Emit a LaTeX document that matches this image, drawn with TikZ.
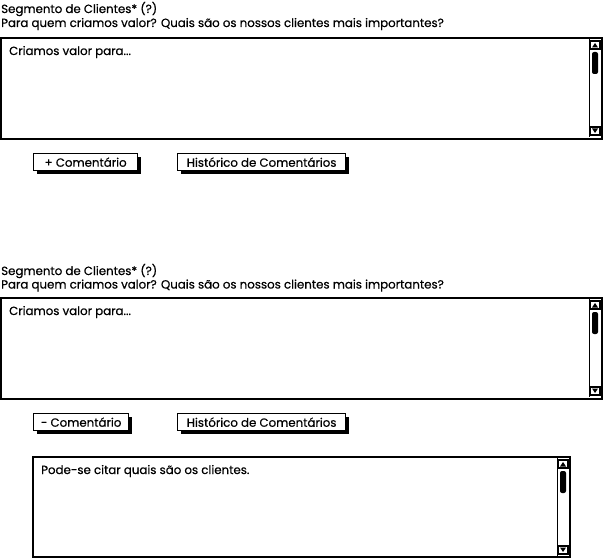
\documentclass[tikz,border=0pt]{standalone}
\usepackage{fontspec}
\newfontfamily\uifont{Poppins}[FakeBold=0.6]
\usetikzlibrary{shadows}
\tikzset{
  lbl/.style={anchor=base west, inner sep=0pt, font=\uifont\fontsize{11.8}{13}\selectfont},
  area/.style={draw=black, line width=1.8pt, fill=white},
  btn/.style={draw=black, line width=1.3pt, fill=white, inner sep=0pt, anchor=north west,
    font=\uifont\fontsize{11.8}{13}\selectfont,
    drop shadow={shadow xshift=3pt, shadow yshift=-3pt, fill=black, opacity=1}},
  scrollbar/.pic={
    \draw[line width=1pt] (-13,1) -- (-13,99);
    \draw[line width=1.2pt, fill=white] (-12,3) rectangle (-2,11);
    \fill (-10,9.5) -- (-4,9.5) -- (-7,5) -- cycle;
    \fill[rounded corners=2pt] (-10,14) rectangle (-4,36);
    \draw[line width=1.2pt, fill=white] (-12,89) rectangle (-2,97);
    \fill (-10,90.5) -- (-4,90.5) -- (-7,95) -- cycle;
  }
}
\begin{document}
\begin{tikzpicture}[x=1pt, y=-1pt]
\useasboundingbox (0,0) rectangle (605,559);

% ---- block 1 ----
\node[lbl] (t1) at (1,13) {Segmento de Clientes* (?)};
\node[lbl] (q1) at (1,27) {Para quem criamos valor? Quais são os nossos clientes mais importantes?};
\draw[area] (1,38) rectangle (602,139);
\pic at (602,38) {scrollbar};
\node[lbl] (a1) at (9,55) {Criamos valor para...};
\node[btn, minimum width=104pt, minimum height=17pt] (b1) at (33,153) {+ Comentário};
\node[btn, minimum width=168pt, minimum height=17pt] (h1) at (177,153) {Histórico de Comentários};

% ---- block 2 ----
\node[lbl] (t2) at (1,275) {Segmento de Clientes* (?)};
\node[lbl] (q2) at (1,288.5) {Para quem criamos valor? Quais são os nossos clientes mais importantes?};
\draw[area] (1,298) rectangle (602,399);
\pic at (602,298) {scrollbar};
\node[lbl] (a2) at (9,315) {Criamos valor para...};
\node[btn, minimum width=95pt, minimum height=17pt] (b2) at (33,413) {- Comentário};
\node[btn, minimum width=168pt, minimum height=17pt] (h2) at (177,413) {Histórico de Comentários};

\draw[area] (33,457) rectangle (570,557);
\pic at (570,457) {scrollbar};
\node[lbl] (c2) at (41,474) {Pode-se citar quais são os clientes.};
\end{tikzpicture}
\end{document}
